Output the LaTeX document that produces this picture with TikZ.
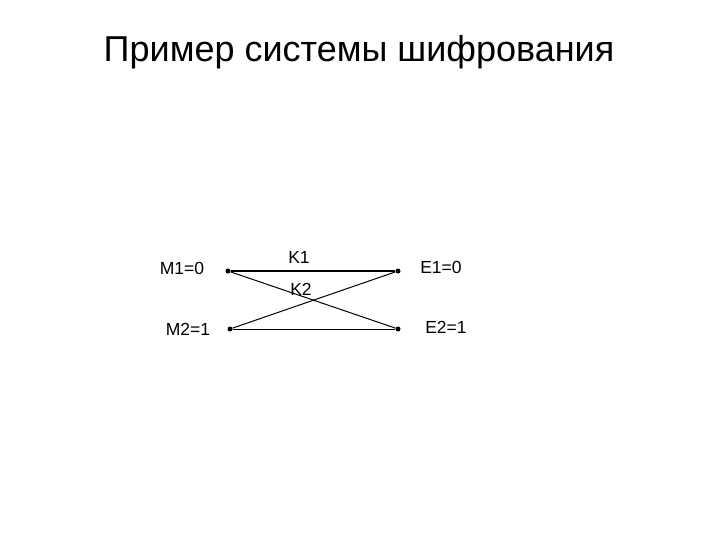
\documentclass[tikz,border=0pt]{standalone}
\usepackage{fontspec}
\setmainfont{Liberation Sans}
\begin{document}
\begin{tikzpicture}[x=1pt,y=-1pt,
  lbl/.style={font=\fontsize{17.5}{20}\selectfont,inner sep=0pt},
  dot/.style={circle,fill=black,inner sep=0pt,minimum size=5pt}]
\useasboundingbox (0,0) rectangle (720,540);
\node[font=\fontsize{36}{40}\selectfont] (title) at (359,52) {Пример системы шифрования};
\node[dot] (m1) at (228,271) {};
\node[dot] (e1) at (398,271) {};
\node[dot] (m2) at (230,329) {};
\node[dot] (e2) at (398,329) {};
\draw[line width=1.2pt] (m1) -- (e1);
\draw[line width=1pt] (m1) -- (e2);
\draw[line width=1pt] (m2) -- (e1);
\draw[line width=0.5pt] (m2) -- (e2);
\node[lbl] (lm1) at (182,268) {M1=0};
\node[lbl] (lm2) at (188,329) {M2=1};
\node[lbl] (le1) at (441,267) {E1=0};
\node[lbl] (le2) at (446,327) {E2=1};
\node[lbl] (k1) at (299,257) {K1};
\node[lbl] (k2) at (301,289) {K2};
\end{tikzpicture}
\end{document}
